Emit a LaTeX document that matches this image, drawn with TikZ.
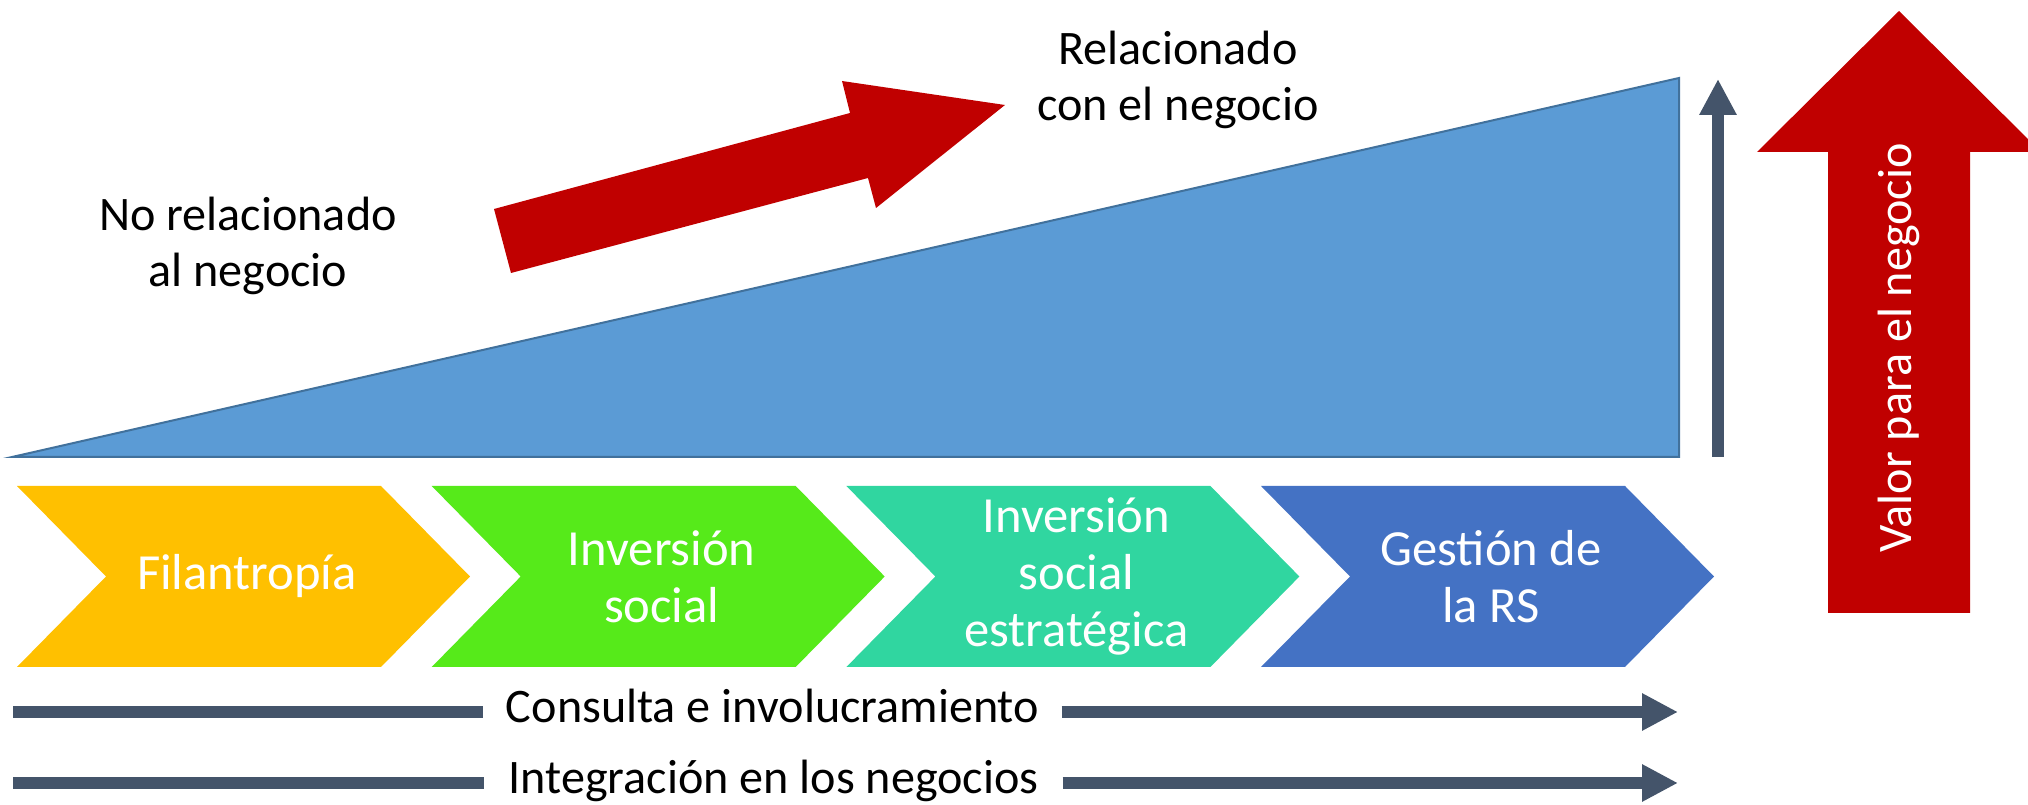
\documentclass[tikz,border=0pt]{standalone}
\usepackage{fontspec}
\setmainfont{Carlito}
\usetikzlibrary{arrows.meta}
\definecolor{barslate}{HTML}{44546A}
\definecolor{valred}{HTML}{C00000}
\definecolor{wedgeblue}{HTML}{5B9BD5}
\definecolor{wedgeedge}{HTML}{41719C}
\definecolor{chevyellow}{HTML}{FFC000}
\definecolor{chevgreen}{HTML}{56EA1A}
\definecolor{chevteal}{HTML}{30D6A0}
\definecolor{chevblue}{HTML}{4472C4}
\tikzset{
    txt/.style={font=\fontsize{13.7}{16}\selectfont, align=center, inner sep=0pt},
    chevtxt/.style={txt, font=\fontsize{14.4}{16.2}\selectfont, text=white},
    bar/.style={barslate, line width=0.12cm},
    bararrow/.style={bar, -{Triangle[width=0.35cm,length=0.36cm]}},
    barlabel/.style={txt, minimum width=5.77cm, text height=0.21cm, text depth=0pt}
}
\begin{document}
\begin{tikzpicture}
    \useasboundingbox (0,0) rectangle (20.28,8.05);
    \fill[wedgeblue, draw=wedgeedge, line width=0.02cm] (0.12,3.48) -- (16.79,3.48) -- (16.79,7.27) -- cycle;
    \coordinate (vbase) at (17.18,3.48);
    \coordinate (vtop) at (17.18,7.26);
    \draw[bararrow, line width=0.115cm] (vbase) -- (vtop);
    \fill[valred] (18.28,1.92) -- (19.70,1.92) -- (19.70,6.53) -- (20.41,6.53) -- (18.99,7.94) -- (17.57,6.53) -- (18.28,6.53) -- cycle;
    \node[txt, text=white, rotate=90] (valor) at (18.99,4.57) {Valor para el negocio};
    \fill[valred] (4.94,5.96) -- (8.50,6.92) -- (8.42,7.24) -- (10.05,7.00) -- (8.76,5.97) -- (8.68,6.27) -- (5.11,5.32) -- cycle;
    \node[txt] (norel) at (2.48,5.59) {No relacionado\\al negocio};
    \node[txt] (rel) at (11.78,7.25) {Relacionado\\con el negocio};
    \fill[chevyellow] (0.17,3.19) -- ++(3.64,0) -- ++(0.89,-0.905) -- ++(-0.89,-0.905) -- ++(-3.64,0) -- ++(0.89,0.905) -- cycle;
    \fill[chevgreen] (4.317,3.19) -- ++(3.64,0) -- ++(0.89,-0.905) -- ++(-0.89,-0.905) -- ++(-3.64,0) -- ++(0.89,0.905) -- cycle;
    \fill[chevteal] (8.464,3.19) -- ++(3.64,0) -- ++(0.89,-0.905) -- ++(-0.89,-0.905) -- ++(-3.64,0) -- ++(0.89,0.905) -- cycle;
    \fill[chevblue] (12.61,3.19) -- ++(3.64,0) -- ++(0.89,-0.905) -- ++(-0.89,-0.905) -- ++(-3.64,0) -- ++(0.89,0.905) -- cycle;
    \node[chevtxt] (filantropia) at (2.47,2.285) {Filantropía};
    \node[chevtxt] (invsocial) at (6.617,2.285) {Inversión\\social};
    \node[chevtxt] (investrat) at (10.764,2.285) {Inversión\\social\\estratégica};
    \node[chevtxt] (gestionrs) at (14.91,2.285) {Gestión de\\la RS};
    \coordinate (c0) at (0.13,0.93);
    \coordinate (c1) at (16.78,0.93);
    \node[barlabel] (consulta) at (7.725,0.93) {Consulta e involucramiento};
    \draw[bar] (c0) -- (consulta.west);
    \draw[bararrow] (consulta.east) -- (c1);
    \coordinate (i0) at (0.13,0.22);
    \coordinate (i1) at (16.78,0.22);
    \node[barlabel] (integracion) at (7.735,0.22) {Integración en los negocios};
    \draw[bar] (i0) -- (integracion.west);
    \draw[bararrow] (integracion.east) -- (i1);
\end{tikzpicture}
\end{document}
